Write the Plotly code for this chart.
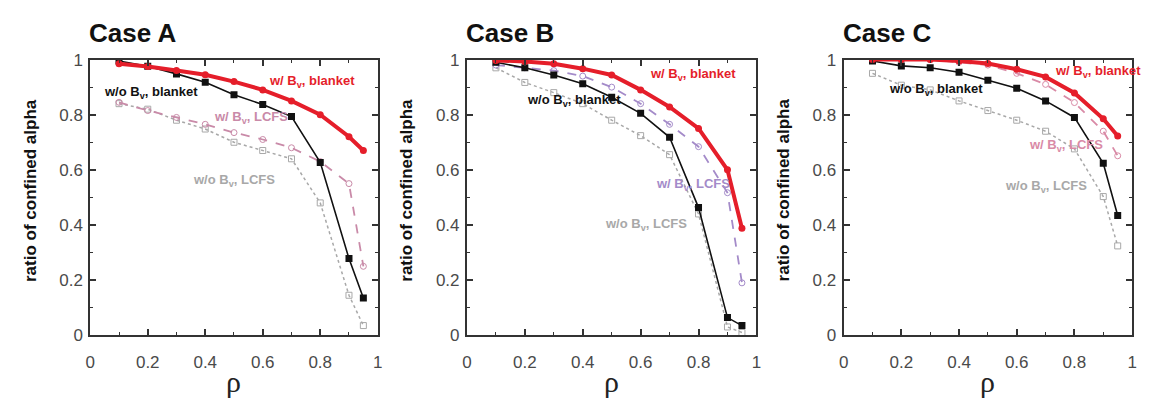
import plotly.graph_objects as go

W, H = 1151, 412

rho = [0.1, 0.2, 0.3, 0.4, 0.5, 0.6, 0.7, 0.8, 0.9, 0.95]
cases = ["Case A", "Case B", "Case C"]

# w/ Bv, blanket
red_A = [0.985, 0.975, 0.96, 0.945, 0.92, 0.89, 0.85, 0.80, 0.72, 0.67]
red_B = [0.997, 0.993, 0.985, 0.967, 0.944, 0.89, 0.828, 0.75, 0.60, 0.388]
red_C = [1.0, 1.0, 1.0, 0.995, 0.986, 0.965, 0.937, 0.879, 0.785, 0.723]
# w/o Bv, blanket
blk_A = [0.995, 0.976, 0.948, 0.918, 0.872, 0.837, 0.793, 0.627, 0.278, 0.135]
blk_B = [0.99, 0.97, 0.944, 0.912, 0.863, 0.805, 0.718, 0.463, 0.064, 0.035]
blk_C = [0.995, 0.977, 0.97, 0.954, 0.925, 0.896, 0.85, 0.79, 0.624, 0.434]
# w/ Bv, LCFS
pnk_A = [0.845, 0.815, 0.79, 0.765, 0.735, 0.71, 0.68, 0.63, 0.55, 0.25]
pnk_B = [0.98, 0.97, 0.96, 0.94, 0.90, 0.84, 0.765, 0.684, 0.517, 0.19]
pnk_C = [1.0, 1.0, 1.0, 0.99, 0.98, 0.95, 0.91, 0.844, 0.74, 0.651]
# w/o Bv, LCFS
gry_A = [0.84, 0.82, 0.78, 0.748, 0.70, 0.67, 0.64, 0.48, 0.145, 0.035]
gry_B = [0.97, 0.917, 0.88, 0.84, 0.78, 0.724, 0.655, 0.44, 0.03, 0.01]
gry_C = [0.95, 0.907, 0.89, 0.85, 0.815, 0.78, 0.74, 0.676, 0.503, 0.324]

tick_vals = [0, 0.2, 0.4, 0.6, 0.8, 1]
tick_text = ["0", "0.2", "0.4", "0.6", "0.8", "1"]

red_all = [red_A, red_B, red_C]
blk_all = [blk_A, blk_B, blk_C]
pnk_all = [pnk_A, pnk_B, pnk_C]
gry_all = [gry_A, gry_B, gry_C]
pnk_colors = ["#c98aa8", "#a48bc9", "#d98aa6"]

# label positions (data coords) per panel: (x, y)
lab_red = [(0.77, 0.92), (0.78, 0.944), (0.88, 0.955)]
lab_blk = [(0.21, 0.88), (0.37, 0.85), (0.32, 0.89)]
lab_pnk = [(0.56, 0.79), (0.78, 0.545), (0.77, 0.69)]
lab_gry = [(0.5, 0.56), (0.62, 0.40), (0.70, 0.54)]

x_dom = [(86, 376), (466, 758), (846, 1137)]
y_top, y_bot = 53, 342

fig = go.Figure()
annotations = []
for i in range(3):
    xa = "x" if i == 0 else f"x{i+1}"
    ya = "y" if i == 0 else f"y{i+1}"
    fig.add_trace(go.Scatter(x=rho, y=gry_all[i], xaxis=xa, yaxis=ya, mode="lines+markers",
                             line=dict(color="#a8a8a8", width=1.5, dash="dot"),
                             marker=dict(symbol="square-open", size=6, color="#a8a8a8"),
                             showlegend=False))
    fig.add_trace(go.Scatter(x=rho, y=pnk_all[i], xaxis=xa, yaxis=ya, mode="lines+markers",
                             line=dict(color=pnk_colors[i], width=1.8, dash="dash"),
                             marker=dict(symbol="circle-open", size=6, color=pnk_colors[i]),
                             showlegend=False))
    fig.add_trace(go.Scatter(x=rho, y=blk_all[i], xaxis=xa, yaxis=ya, mode="lines+markers",
                             line=dict(color="#111111", width=1.6),
                             marker=dict(symbol="square", size=7, color="#111111"),
                             showlegend=False))
    fig.add_trace(go.Scatter(x=rho, y=red_all[i], xaxis=xa, yaxis=ya, mode="lines+markers",
                             line=dict(color="#e51e2a", width=4),
                             marker=dict(symbol="circle", size=7, color="#e51e2a"),
                             showlegend=False))

    x0, x1 = x_dom[i]
    axcommon = dict(range=[0, 1], tickvals=tick_vals, ticktext=tick_text, ticks="inside",
                    ticklen=6, tickwidth=1.5, tickcolor="#333", mirror="ticks", showline=True,
                    linecolor="#333", linewidth=2, showgrid=False, zeroline=False,
                    tickfont=dict(family="Arial, Liberation Sans", size=17, color="#4a4a4a"),
                    minor=dict(dtick=0.1, ticks="inside", ticklen=3, tickcolor="#333", tickwidth=1))
    fig.update_layout(**{
        ("xaxis" if i == 0 else f"xaxis{i+1}"): dict(domain=[x0 / W, x1 / W], anchor=ya,
                                                     ticklabelstandoff=10, **axcommon),
        ("yaxis" if i == 0 else f"yaxis{i+1}"): dict(domain=[1 - y_bot / H, 1 - y_top / H], anchor=xa,
                                                     ticklabelstandoff=2, **axcommon),
    })
    # case title
    annotations.append(dict(text="<b>" + cases[i] + "</b>", x=(x0 - 3) / W, y=1 - 25 / H,
                            xref="paper", yref="paper",
                            xanchor="left", yanchor="middle", showarrow=False,
                            font=dict(family="Arial, Liberation Sans", size=26, color="#111")))
    # y title
    annotations.append(dict(text="<b>ratio of confined alpha</b>", x=(x0 - 61) / W, y=1 - 190 / H,
                            xref="paper", yref="paper", textangle=-90, showarrow=False,
                            xanchor="center", yanchor="middle",
                            font=dict(family="Arial, Liberation Sans", size=17, color="#111")))
    # x title
    annotations.append(dict(text="ρ", x=(x0 + x1) / 2 / W, y=1 - 390 / H, xref="paper", yref="paper",
                            showarrow=False, xanchor="center", yanchor="middle",
                            font=dict(family="Liberation Serif", size=30, color="#222")))
    # curve labels
    for (lx, ly), txt, col in [(lab_red[i], "w/ B<sub>v</sub>, blanket", "#e51e2a"),
                               (lab_blk[i], "w/o B<sub>v</sub>, blanket", "#111111"),
                               (lab_pnk[i], "w/ B<sub>v</sub>, LCFS", pnk_colors[i]),
                               (lab_gry[i], "w/o B<sub>v</sub>, LCFS", "#a8a8a8")]:
        annotations.append(dict(text="<b>" + txt + "</b>", x=lx, y=ly, xref=xa, yref=ya,
                                showarrow=False, xanchor="center", yanchor="middle",
                                font=dict(family="Arial, Liberation Sans", size=13, color=col)))

fig.update_layout(width=W, height=H, margin=dict(l=0, r=0, t=0, b=0),
                  paper_bgcolor="white", plot_bgcolor="white", annotations=annotations)
fig.write_html("out.html")
